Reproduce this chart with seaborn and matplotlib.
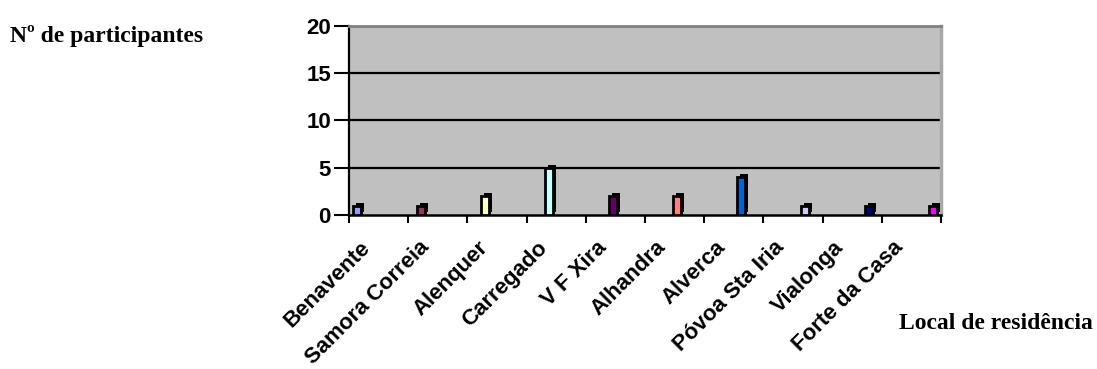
import matplotlib
matplotlib.use("Agg")
import matplotlib.pyplot as plt
import matplotlib.transforms as mtransforms
import seaborn as sns
import pandas as pd

# Participantes por local de residência
locais = ["Benavente", "Samora Correia", "Alenquer", "Carregado", "V F Xira",
          "Alhandra", "Alverca", "Póvoa Sta Iria", "Vialonga", "Forte da Casa"]
participantes = [1, 1, 2, 5, 2, 2, 4, 1, 1, 1]
cores = ["#9999FF", "#993366", "#FFFFCC", "#CCFFFF", "#660066",
         "#FF8080", "#0066CC", "#CCCCFF", "#000080", "#FF00FF"]
y_ticks = [0, 5, 10, 15, 20]

sns.set_theme(style="white")
plt.rcParams["font.family"] = ["Liberation Sans", "DejaVu Sans"]
plt.rcParams["text.color"] = "black"
plt.rcParams["xtick.color"] = "black"
plt.rcParams["ytick.color"] = "black"

df = pd.DataFrame({"local": locais, "n": participantes})

W, H = 1097, 369
fig = plt.figure(figsize=(W / 100, H / 100), dpi=100)
ax = fig.add_axes([349 / W, 1 - 215 / H, (941 - 349) / W, (215 - 26) / H])
ax.set_facecolor("#C0C0C0")

# dark depth face of each column, pushed back-right
sns.barplot(data=df, x="local", y="n", color="black", width=0.11,
            linewidth=0, saturation=1, errorbar=None, ax=ax, zorder=3)
depth = mtransforms.ScaledTranslation(3 / 100, 3 / 100, fig.dpi_scale_trans)
for p in ax.patches:
    p.set_transform(ax.transData + depth)

# coloured front faces
sns.barplot(data=df, x="local", y="n", hue="local", palette=cores, width=0.11,
            edgecolor="black", linewidth=2, saturation=1, legend=False,
            errorbar=None, ax=ax, zorder=4)

ax.set_xlim(-0.125, len(locais) - 1 + 0.125)
ax.set_ylim(0, 20)
ax.set_xticks([])
ax.set_xlabel("")
ax.set_ylabel("")
ax.set_yticks(y_ticks)
ax.set_yticklabels([str(v) for v in y_ticks], fontsize=16, fontweight="bold")
ax.tick_params(axis="y", length=11, width=1.5, color="black", pad=2, left=True)
for v in y_ticks[1:-1]:
    ax.axhline(v, color="black", lw=1.6, zorder=1)

ax.spines["left"].set_color("black")
ax.spines["left"].set_linewidth(1.6)
ax.spines["bottom"].set_color("black")
ax.spines["bottom"].set_linewidth(1.8)
ax.spines["top"].set_color("#808080")
ax.spines["top"].set_linewidth(2)
ax.spines["right"].set_color("#A8A8A8")
ax.spines["right"].set_linewidth(2.5)

# category axis: ticks on the boundaries, names in between
ax2 = ax.twiny()
ax2.set_xlim(0, len(locais))
ax2.xaxis.set_ticks_position("bottom")
ax2.set_xticks(range(len(locais) + 1))
ax2.set_xticklabels([])
ax2.set_xticks([i + 0.5 for i in range(len(locais))], minor=True)
ax2.set_xticklabels(locais, minor=True, rotation=45, ha="right",
                    rotation_mode="anchor", fontsize=16, fontweight="bold")
ax2.tick_params(axis="x", which="major", length=6, width=1.5,
                color="black", direction="out", bottom=True)
ax2.tick_params(axis="x", which="minor", length=0, pad=8)
label_shift = mtransforms.ScaledTranslation(-19 / 100, -11 / 100, fig.dpi_scale_trans)
for lbl in ax2.get_xticklabels(minor=True):
    lbl.set_transform(lbl.get_transform() + label_shift)
for s in ax2.spines.values():
    s.set_visible(False)

fig.text(10 / W, 1 - 42 / H, "Nº de participantes", family=["Liberation Serif"],
         fontweight="bold", fontsize=17, va="baseline", ha="left", color="black")
fig.text(899 / W, 1 - 329 / H, "Local de residência", family=["Liberation Serif"],
         fontweight="bold", fontsize=17, va="baseline", ha="left", color="black")

fig.savefig("out.png", dpi=100)
